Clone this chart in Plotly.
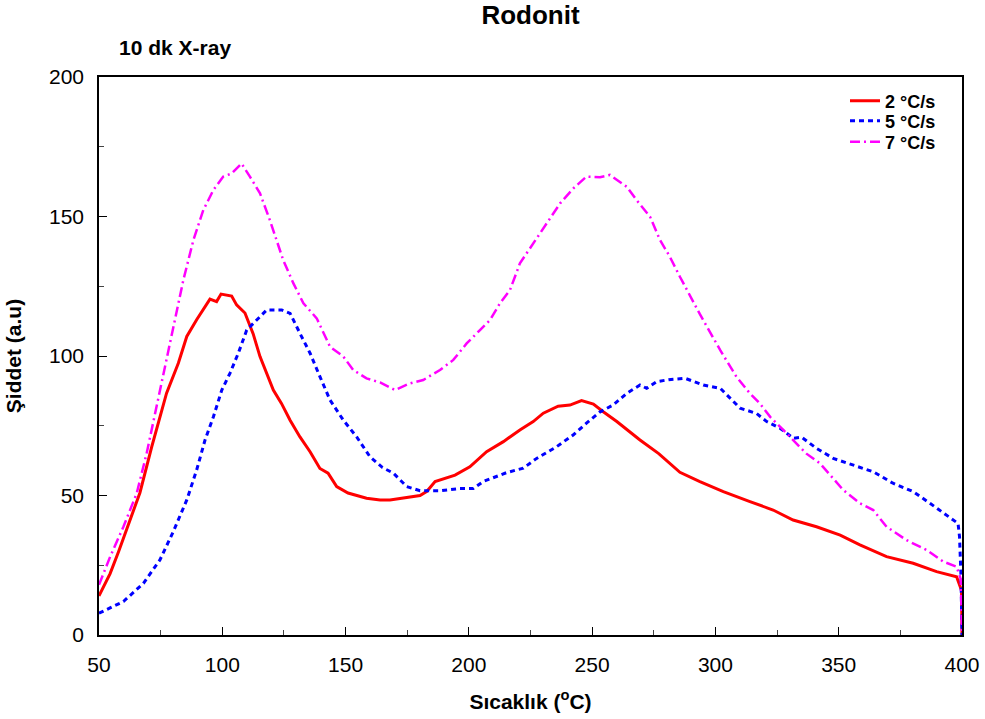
import plotly.graph_objects as go

# ---- data ----
x_2 = [50, 54.5, 58, 61.2, 66.6, 71.4, 77.4, 82.2, 85.6, 89.6, 95, 97.7, 99.5, 103.8, 105.8,
       109.2, 112.5, 115.3, 120.7, 124, 127.5, 131.5, 135.6, 139.6, 142.9, 146.4, 151, 158.5,
       164, 168, 172, 176, 180.2, 183, 186.3, 194.4, 200.4, 207.2, 214, 220.7, 226.1, 230.2,
       236.2, 241, 245.7, 250.5, 254.5, 260, 269.4, 277, 285.6, 293.7, 303.2, 314, 323.4,
       331.5, 341, 350.6, 358.6, 369.4, 380.2, 389.7, 397.8, 399.8, 400]
y_2 = [14, 22, 30, 37.6, 51, 67.5, 86.7, 97.5, 107, 113, 120.4, 119.5, 122.2, 121.5, 118.3,
       115.4, 108, 99.8, 87.8, 83, 77, 71, 65.7, 59.7, 58, 53.2, 50.9, 49,
       48.4, 48.4, 49, 49.5, 50, 51.5, 55, 57.3, 60.3, 65.7, 69.3, 73.5, 76.5, 79.5,
       82, 82.4, 84, 82.8, 80, 76.5, 69.9, 65, 58.3, 55, 51.4, 47.8, 44.8,
       41.2, 38.8, 35.8, 32.3, 28.1, 25.7, 22.7, 20.9, 16, 0]

x_5 = [50, 59.9, 68, 74.7, 80.1, 85.6, 89.6, 93, 96.4, 99.8, 103.1, 106.5, 109.9, 114, 118,
       124.1, 127.5, 131.5, 135.6, 139.6, 143.7, 149.1, 154.5, 159.9, 165, 169.4, 174.8,
       180.2, 188.3, 196.4, 201.8, 205.8, 215.3, 222.1, 227.5, 235.6, 242.3, 247.7, 253.2,
       258.5, 264, 269.4, 272.1, 276.1, 281, 287.7, 295.1, 302, 306, 310, 316.7, 320.8,
       326.2, 331.6, 335, 341, 347.8, 356, 364, 372, 380.2, 387, 393.7, 398.4, 399, 399.6, 400]
y_5 = [7.8, 12, 18.5, 26.9, 37, 48.4, 59.1, 69.9, 78.2, 87.8, 93.8, 101, 109.3, 112.9, 116.5,
       116.5, 115.3, 108.1, 101, 92.6, 84.2, 77, 71, 63.9, 60, 58, 53.2,
       51.7, 51.7, 52.5, 52.5, 55, 58.2, 59.8, 63.3, 67.5, 71.7, 75.9, 80,
       82.4, 86.6, 89.6, 88.4, 90.8, 91.5, 92, 89.6, 88.4, 84.8, 81.3, 79.4, 76.5,
       74.1, 70.5, 70.9, 66.9, 63.3, 60.9, 58.5, 54.4, 51.4, 47.2, 43, 40, 35.2, 21, 0]

x_7 = [50, 54.5, 59.9, 65.3, 69.3, 73.4, 76.1, 80.1, 84.2, 88.3, 92.3, 96.4, 100.4, 103.8,
       107.8, 111.2, 115.3, 119.3, 122.1, 124.7, 128.8, 132.9, 138.3, 143.7, 149.1, 153.1,
       158.5, 164, 170, 176.1, 181.5, 188.3, 193.7, 199.1, 204.5, 208.6, 212.6, 216.7, 220.7,
       226.1, 231.5, 237, 242.4, 247.7, 253.2, 257.2, 264, 268, 273.5, 277.5, 281.5, 285.6,
       293.7, 302, 308.5, 314, 318, 322.2, 327.5, 333, 336.9, 342.4, 347.8, 351.8, 358.6,
       364, 369.4, 377.5, 385.6, 392.4, 397.8, 399.5, 400]
y_7 = [18, 28, 38.8, 50.8, 65, 81.8, 93.8, 110.5, 127.2, 141.6, 152.3, 159.5, 164.3, 165.4,
       169, 164.3, 158.3, 148.7, 141.6, 134.4, 126.1, 118.9, 113.5, 103.3, 99.8, 95,
       92, 90.5, 87.8, 90.2, 91.4, 95, 98.6, 104.5, 109.3, 112.9, 118.9, 123.7, 133.2,
       140.4, 147.5, 154.7, 160.1, 164.3, 164.1, 164.9, 160.7, 155.9, 149.9, 141.6, 135.6, 128.4,
       115, 102, 92.6, 86.6, 83, 78.2, 73.5, 68.7, 65, 61.5, 56.1, 52, 47.2,
       44.8, 38.8, 34, 30.5, 26.3, 24.5, 20, 0]

series_names = ["<b>2 °C/s</b>", "<b>5 °C/s</b>", "<b>7 °C/s</b>"]
x_ticks = [50, 100, 150, 200, 250, 300, 350, 400]
y_ticks = [0, 50, 100, 150, 200]

FONT = "Arial, Liberation Sans, sans-serif"

fig = go.Figure()
fig.add_trace(go.Scatter(x=x_2, y=y_2, mode="lines", name=series_names[0], legend="legend",
                         line=dict(color="#FF0000", width=3)))
fig.add_trace(go.Scatter(x=x_5, y=y_5, mode="lines", name=series_names[1], legend="legend2",
                         line=dict(color="#0000FF", width=3, dash="5px,4px")))
fig.add_trace(go.Scatter(x=x_7, y=y_7, mode="lines", name=series_names[2], legend="legend3",
                         line=dict(color="#FF00FF", width=2.5, dash="10px,4px,2px,4px")))

def legend_at(row_px):
    return dict(x=(845 - 99) / 863, y=(635 - row_px) / 558, xanchor="left", yanchor="middle",
                bgcolor="rgba(0,0,0,0)", font=dict(size=18, family=FONT, color="black"))

fig.update_layout(
    width=985, height=719,
    margin=dict(l=99, r=23, t=77, b=84, autoexpand=False),
    paper_bgcolor="white", plot_bgcolor="white",
    font=dict(family=FONT, color="black"),
    title=dict(text="<b>Rodonit</b>", x=(530.5 / 985), xanchor="center",
               y=1 - 15 / 719, yanchor="middle", yref="container",
               font=dict(size=26, family=FONT, color="black")),
    showlegend=True,
    legend=legend_at(101),
    legend2=legend_at(121),
    legend3=legend_at(142),
    annotations=[dict(text="<b>10 dk X-ray</b>", xref="paper", yref="paper",
                      x=(117 - 99) / 863, y=(635 - 47) / 558, xanchor="left", yanchor="middle",
                      showarrow=False, font=dict(size=21, family=FONT, color="black"))],
)

fig.update_xaxes(
    range=[50, 400], tickvals=x_ticks, ticks="inside", ticklen=8, tickcolor="black",
    showgrid=False, zeroline=False, showline=True, linecolor="black", linewidth=1.5,
    mirror=True, tickfont=dict(size=21, family=FONT, color="black"), automargin=False,
    minor=dict(dtick=25, tick0=50, ticks="inside", ticklen=5, tickcolor="#444"),
    title=dict(text="<b>Sıcaklık (<sup>o</sup>C)</b>", standoff=19,
               font=dict(size=21, family=FONT, color="black")),
    ticklabelstandoff=10,
)
fig.update_yaxes(
    range=[0, 200], tickvals=y_ticks, ticks="inside", ticklen=8, tickcolor="black",
    showgrid=False, zeroline=False, showline=True, linecolor="black", linewidth=1.5,
    mirror=True, tickfont=dict(size=21, family=FONT, color="black"), automargin=False,
    minor=dict(dtick=25, tick0=0, ticks="inside", ticklen=5, tickcolor="#444"),
    title=dict(text="<b>Şiddet (a.u)</b>", standoff=22,
               font=dict(size=21, family=FONT, color="black")),
    ticklabelstandoff=9,
)

fig.write_html("out.html", config={"displayModeBar": False},
               post_script="document.body.style.margin='0';document.body.style.overflow='hidden';")
